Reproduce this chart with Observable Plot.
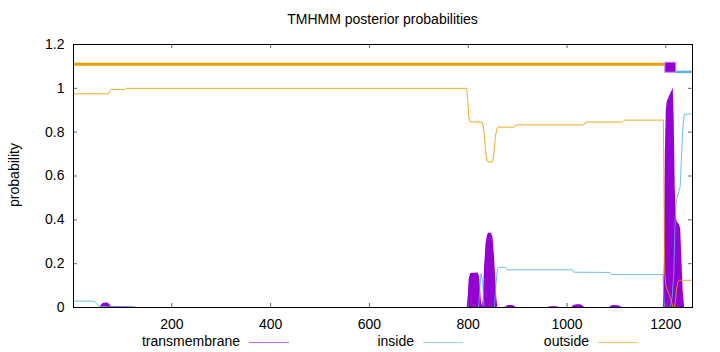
<!DOCTYPE html>
<html>
<head>
<meta charset="utf-8">
<script src="https://cdn.jsdelivr.net/npm/d3@7"></script>
<script src="https://cdn.jsdelivr.net/npm/@observablehq/plot@0.6"></script>
<style>
  body { margin: 0; background: #fff; }
  #wrap { position: relative; width: 720px; height: 352px; font-family: "Liberation Sans", Arial, sans-serif; color: #000; }
  #title { position: absolute; top: 11px; left: 0; width: 765px; text-align: center; font-size: 14px; }
  #ylab { position: absolute; left: 14px; top: 175px; transform: translate(-50%, -50%) rotate(-90deg); font-size: 14px; white-space: nowrap; }
  .leg { position: absolute; top: 333px; font-size: 14px; white-space: nowrap; }
  .legtxt { position: absolute; text-align: right; }
  .legline { position: absolute; height: 0; border-top: 1px solid; }
  svg { position: absolute; left: 0; top: 0; }
</style>
</head>
<body>
<div id="wrap">
  <div id="title">TMHMM posterior probabilities</div>
  <div id="ylab">probability</div>
  <div id="legend"></div>
</div>
<script>
// ---- data ----
const xTicks = [200, 400, 600, 800, 1000, 1200];
const yTicks = [0, 0.2, 0.4, 0.6, 0.8, 1, 1.2];
const seriesNames = ["transmembrane", "inside", "outside"];
const seriesColors = ["#9400D3", "#56B4E9", "#E69F00"];

const posTM = [1, 55, 58, 62, 70, 74, 77, 80, 120, 130, 798, 800, 802, 805, 820, 823, 825, 827, 829, 831, 833, 836, 839, 842, 847, 850, 853, 856, 858, 860,
  875, 878, 882, 890, 894, 897, 962, 966, 980, 984, 1010, 1014, 1020, 1028, 1033, 1036, 1086, 1090, 1096, 1104, 1108, 1111,
  1195, 1197, 1199, 1201, 1203, 1207, 1210, 1213, 1215, 1217, 1219, 1221, 1223, 1227, 1230, 1232, 1235, 1238, 1254];
const probTM = [0, 0, 0.012, 0.019, 0.02, 0.015, 0.005, 0.003, 0.002, 0, 0, 0.05, 0.13, 0.155, 0.157, 0.14, 0.08, 0.02, 0.005, 0.05, 0.18, 0.29, 0.33, 0.34, 0.338, 0.32, 0.24, 0.12, 0.04, 0,
  0, 0.006, 0.009, 0.009, 0.006, 0, 0, 0.003, 0.003, 0, 0, 0.009, 0.013, 0.012, 0.006, 0, 0, 0.007, 0.009, 0.008, 0.005, 0,
  0, 0.2, 0.7, 0.9, 0.94, 0.96, 0.975, 0.99, 1.0, 0.85, 0.55, 0.42, 0.39, 0.38, 0.36, 0.25, 0.08, 0, 0];

const posIn = [1, 43, 47, 52, 57, 80, 117, 130, 821, 824, 826, 829, 832, 853, 856, 859, 862, 876, 879, 1011, 1014, 1087, 1090, 1194, 1196, 1197,
  1209, 1213, 1216, 1219, 1221, 1225, 1229, 1231, 1234, 1237, 1254];
const probIn = [0.029, 0.029, 0.02, 0.008, 0.005, 0.003, 0.002, 0, 0, 0.1, 0.155, 0.12, 0, 0, 0.1, 0.175, 0.183, 0.183, 0.172, 0.172, 0.161, 0.16, 0.15, 0.15, 0.05, 0,
  0, 0.05, 0.15, 0.4, 0.48, 0.52, 0.55, 0.65, 0.8, 0.88, 0.885];

const posOut = [1, 72, 75, 77, 105, 108, 797, 799, 801, 804, 829, 832, 835, 838, 840, 849, 852, 855, 858, 861, 893, 896, 1034, 1038, 1112, 1116, 1195,
  1196, 1197, 1198, 1200, 1203, 1207, 1211, 1214, 1217, 1219, 1222, 1225, 1228, 1254];
const probOut = [0.975, 0.975, 0.99, 0.995, 0.995, 1.0, 1.0, 0.95, 0.87, 0.847, 0.845, 0.8, 0.72, 0.67, 0.664, 0.664, 0.7, 0.78, 0.815, 0.823, 0.823, 0.833, 0.833, 0.846, 0.846, 0.855, 0.855,
  0.6, 0.3, 0.15, 0.1, 0.08, 0.06, 0.03, 0.005, 0, 0.02, 0.09, 0.12, 0.124, 0.124];

// predicted topology (top bar)
const topoStart = [1, 1199, 1221];
const topoEnd = [1199, 1221, 1254];
const topoType = ["outside", "transmembrane", "inside"];
const topoLevel = [1.11, 1.094, 1.075];

// ---- build tables ----
const tm = posTM.map((p, i) => ({pos: p, prob: probTM[i]}));
const inside = posIn.map((p, i) => ({pos: p, prob: probIn[i]}));
const outside = posOut.map((p, i) => ({pos: p, prob: probOut[i]}));
const topo = topoStart.map((s, i) => ({x1: s, x2: topoEnd[i], type: topoType[i], y: topoLevel[i]}));
const colorOf = Object.fromEntries(seriesNames.map((n, i) => [n, seriesColors[i]]));

const chart = Plot.plot({
  width: 720,
  height: 352,
  marginLeft: 73,
  marginRight: 28,
  marginTop: 44,
  marginBottom: 45,
  style: {fontFamily: '"Liberation Sans", Arial, sans-serif', fontSize: "14px", background: "transparent", color: "#000"},
  x: {domain: [1, 1254], ticks: xTicks, tickSize: 0, tickPadding: 12, tickFormat: d => String(d), label: null},
  y: {domain: [0, 1.2], ticks: yTicks, tickSize: 0, tickPadding: 9, tickFormat: d => String(d), label: null},
  marks: [
    Plot.areaY(tm, {x: "pos", y: "prob", fill: colorOf.transmembrane}),
    Plot.line(inside, {x: "pos", y: "prob", stroke: colorOf.inside, strokeWidth: 1, strokeOpacity: 0.85}),
    Plot.line(outside, {x: "pos", y: "prob", stroke: colorOf.outside, strokeWidth: 1, strokeOpacity: 0.85}),
    Plot.ruleY(topo.filter(d => d.type !== "transmembrane"), {x1: "x1", x2: "x2", y: "y", stroke: d => colorOf[d.type], strokeWidth: d => d.type === "outside" ? 3 : 2.5}),
    Plot.rect(topo.filter(d => d.type === "transmembrane"), {x1: "x1", x2: "x2", y1: 1.071, y2: 1.117, fill: d => colorOf[d.type], stroke: "#c890e8", strokeWidth: 1}),
    Plot.tickX(xTicks, {x: d => d, insetTop: 259, stroke: "#666"}),
    Plot.tickX(xTicks, {x: d => d, insetBottom: 259, stroke: "#666"}),
    Plot.tickY(yTicks, {y: d => d, insetRight: 615, stroke: "#666"}),
    Plot.tickY(yTicks, {y: d => d, insetLeft: 615, stroke: "#666"}),
    Plot.frame({stroke: "#000", strokeWidth: 1})
  ]
});
document.getElementById("wrap").prepend(chart);

// legend
const legend = document.getElementById("legend");
const legTextRight = [240, 414, 589];
seriesNames.forEach((name, i) => {
  const t = document.createElement("div");
  t.className = "leg legtxt";
  t.style.right = (720 - legTextRight[i]) + "px";
  t.textContent = name;
  legend.appendChild(t);
  const l = document.createElement("div");
  l.className = "leg legline";
  l.style.left = (legTextRight[i] + 9) + "px";
  l.style.width = "40px";
  l.style.top = "342px";
  l.style.borderTopColor = seriesColors[i];
  l.style.opacity = "0.6";
  legend.appendChild(l);
});
</script>
</body>
</html>
